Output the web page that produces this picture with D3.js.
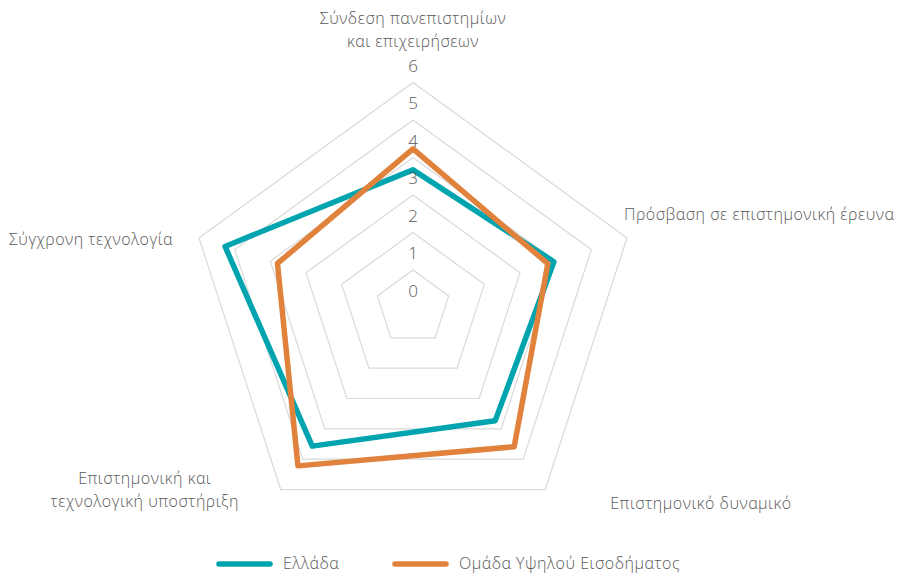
<!DOCTYPE html>
<html>
<head>
  <meta charset="UTF-8">
  <title>Radar Chart</title>
  <script src="https://d3js.org/d3.v7.min.js"></script>
  <style>
    body {
      margin: 0;
      background: #fff;
      font-family: "Open Sans", "Noto Sans", sans-serif;
    }
    .grid {
      fill: none;
      stroke: #d9d9d9;
      stroke-width: 1.2;
    }
    .tick-label {
      fill: #595959;
      font-size: 17px;
      font-weight: 300;
    }
    .cat-label, .legend-label {
      fill: #595959;
      font-size: 16px;
      font-weight: 300;
      letter-spacing: 0.5px;
    }
    .series {
      fill: none;
      stroke-width: 5.5;
      stroke-linejoin: round;
    }
  </style>
</head>
<body>
  <div id="chart"></div>
  <script>
    const categories = [
      ["Σύνδεση πανεπιστημίων", "και επιχειρήσεων"],
      ["Πρόσβαση σε επιστημονική έρευνα"],
      ["Επιστημονικό δυναμικό"],
      ["Επιστημονική και", "τεχνολογική υποστήριξη"],
      ["Σύγχρονη τεχνολογία"]
    ];
    const greece = [3.67, 3.95, 3.73, 4.57, 5.27];
    const highIncome = [4.23, 3.78, 4.59, 5.22, 3.8];
    const seriesNames = ["Ελλάδα", "Ομάδα Υψηλού Εισοδήματος"];
    const seriesColors = ["#00A4AE", "#E0823C"];
    const ticks = [0, 1, 2, 3, 4, 5, 6];

    const width = 899, height = 579;
    const cx = 413, cy = 307.5, R = 225;

    const svg = d3.select("#chart").append("svg")
      .attr("width", width)
      .attr("height", height);

    const r = d3.scaleLinear().domain([0, 6]).range([0, R]);
    const angle = d3.scaleLinear().domain([0, categories.length]).range([0, 2 * Math.PI]);

    const g = svg.append("g").attr("transform", `translate(${cx},${cy})`);

    const pt = (i, v) => [Math.sin(angle(i)) * r(v), -Math.cos(angle(i)) * r(v)];

    // grid pentagons (no spokes)
    ticks.filter(t => t > 0).forEach(t => {
      g.append("path")
        .attr("class", "grid")
        .attr("d", d3.line()(categories.map((c, i) => pt(i, t))) + "Z");
    });

    // series
    const radial = d3.lineRadial()
      .angle((d, i) => angle(i))
      .radius(d => r(d))
      .curve(d3.curveLinearClosed);

    [greece, highIncome].forEach((s, k) => {
      g.append("path")
        .attr("class", "series")
        .attr("stroke", seriesColors[k])
        .attr("d", radial(s));
    });

    // tick labels
    g.selectAll(".tick-label")
      .data(ticks)
      .enter()
      .append("text")
      .attr("class", "tick-label")
      .attr("x", 0)
      .attr("y", d => -r(d) - 11)
      .attr("text-anchor", "middle")
      .text(d => d);

    // category labels: [dx, dy, anchor] relative to outer vertex
    const labelPlace = [
      [0, -59, "middle"],
      [-3, -18, "start"],
      [65, 19, "start"],
      [-136, -6, "middle"],
      [-26, 7, "end"]
    ];
    categories.forEach((lines, i) => {
      const p = pt(i, 6);
      const lp = labelPlace[i];
      const t = g.append("text")
        .attr("class", "cat-label")
        .attr("text-anchor", lp[2])
        .attr("x", p[0] + lp[0])
        .attr("y", p[1] + lp[1]);
      lines.forEach((ln, j) => {
        t.append("tspan")
          .attr("x", p[0] + lp[0])
          .attr("dy", j === 0 ? 0 : 23)
          .text(ln);
      });
    });

    // legend
    const legendX = [219, 395];
    const legend = svg.append("g");
    seriesNames.forEach((n, k) => {
      legend.append("line")
        .attr("x1", legendX[k]).attr("x2", legendX[k] + 51)
        .attr("y1", 564).attr("y2", 564)
        .attr("stroke", seriesColors[k])
        .attr("stroke-width", 5.5)
        .attr("stroke-linecap", "round");
      legend.append("text")
        .attr("class", "legend-label")
        .attr("x", legendX[k] + 64)
        .attr("y", 569)
        .text(n);
    });
  </script>
</body>
</html>
